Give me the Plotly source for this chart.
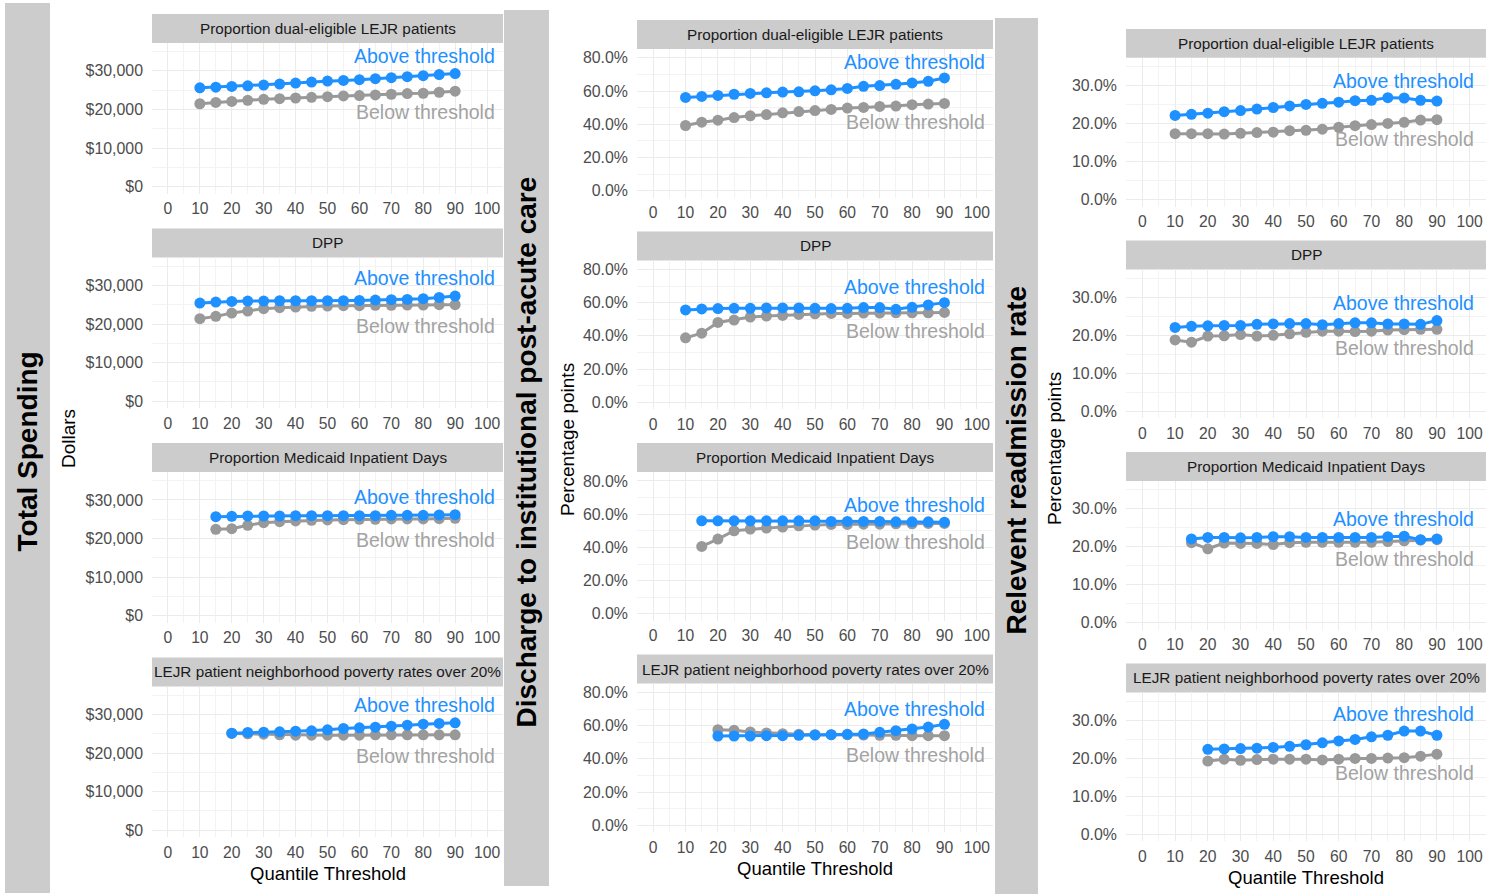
import plotly.graph_objects as go

# ---------------- data ----------------
X_10 = list(range(10, 95, 5))   # thresholds 10..90
X_15 = list(range(15, 95, 5))   # thresholds 15..90
X_20 = list(range(20, 95, 5))   # thresholds 20..90

FACETS = [
    "Proportion dual-eligible LEJR patients",
    "DPP",
    "Proportion Medicaid Inpatient Days",
    "LEJR patient neighborhood poverty rates over 20%",
]
OUTCOMES = ["Total Spending", "Discharge to institutional post-acute care", "Relevent readmission rate"]
Y_TITLES = ["Dollars", "Percentage points", "Percentage points"]
X_TITLE = "Quantile Threshold"
LABEL_ABOVE = "Above threshold"
LABEL_BELOW = "Below threshold"

X_TICKS = [0, 10, 20, 30, 40, 50, 60, 70, 80, 90, 100]
X_TICK_TEXT = ["0", "10", "20", "30", "40", "50", "60", "70", "80", "90", "100"]
Y_TICKS_SPEND = [0, 10000, 20000, 30000]
Y_TICK_TEXT_SPEND = ["$0", "$10,000", "$20,000", "$30,000"]
Y_TICKS_PAC = [0, 20, 40, 60, 80]
Y_TICK_TEXT_PAC = ["0.0%", "20.0%", "40.0%", "60.0%", "80.0%"]
Y_TICKS_READM = [0, 10, 20, 30]
Y_TICK_TEXT_READM = ["0.0%", "10.0%", "20.0%", "30.0%"]

# Total spending (dollars)
spend_dual_above = [25610, 25790, 25970, 26140, 26320, 26580, 26840, 27100, 27370, 27540, 27720, 27980, 28250, 28510, 28770, 29040, 29300]
spend_dual_below = [21490, 21840, 22100, 22370, 22630, 22810, 22980, 23160, 23330, 23510, 23600, 23770, 23950, 24120, 24210, 24470, 24740]
spend_dpp_above = [25430, 25690, 25860, 25950, 25950, 26030, 26030, 26030, 26030, 26030, 26120, 26210, 26290, 26380, 26550, 26900, 27240]
spend_dpp_below = [21380, 21980, 22850, 23360, 23970, 24220, 24400, 24570, 24660, 24740, 24740, 24830, 24830, 24910, 24910, 25000, 25000]
spend_mcd_above = [25670, 25760, 25840, 25840, 25840, 25930, 25930, 25930, 25930, 25930, 25930, 26020, 26020, 26020, 26100, 26190]
spend_mcd_below = [22380, 22550, 23420, 24110, 24370, 24550, 24720, 24810, 24890, 24980, 24980, 25070, 25070, 25070, 25150, 25240]
spend_pov_above = [25150, 25330, 25410, 25500, 25670, 25760, 26020, 26360, 26540, 26710, 26970, 27230, 27490, 27660, 27840]
spend_pov_below = [25070, 24980, 24890, 24720, 24630, 24630, 24630, 24630, 24630, 24720, 24720, 24720, 24720, 24720, 24720]

# Discharge to institutional post-acute care (percent)
pac_dual_above = [56.2, 56.8, 57.4, 58.1, 58.6, 59.0, 59.4, 59.6, 60.2, 60.8, 61.6, 62.9, 63.3, 64.1, 64.9, 65.9, 67.9]
pac_dual_below = [39.3, 41.3, 42.5, 44.1, 45.1, 45.9, 46.9, 47.7, 48.3, 49.0, 49.8, 50.2, 50.8, 51.0, 51.8, 52.2, 52.6]
pac_dpp_above = [55.6, 56.2, 56.4, 56.6, 56.6, 56.8, 56.8, 56.8, 56.6, 56.4, 56.6, 57.0, 57.0, 56.0, 57.2, 58.6, 60.0]
pac_dpp_below = [38.8, 41.6, 48.1, 49.5, 51.3, 51.9, 52.3, 52.9, 53.3, 53.5, 53.5, 53.7, 53.7, 53.9, 53.9, 53.9, 54.1]
pac_mcd_above = [56.0, 56.0, 56.0, 56.0, 56.0, 56.0, 56.0, 56.0, 55.6, 55.6, 55.6, 55.6, 55.4, 55.4, 55.4, 55.2]
pac_mcd_below = [40.6, 45.0, 50.0, 51.0, 51.6, 52.2, 53.0, 53.4, 53.8, 53.8, 54.0, 54.0, 54.2, 54.2, 54.4, 54.4]
pac_pov_above = [53.8, 53.8, 53.8, 54.0, 54.0, 54.2, 54.4, 54.6, 54.8, 55.0, 56.0, 57.0, 58.0, 59.2, 60.8]
pac_pov_below = [57.6, 57.2, 56.2, 55.6, 55.2, 54.8, 54.6, 54.6, 54.6, 54.4, 54.2, 54.2, 54.0, 54.0, 54.0]

# Relevant readmission rate (percent)
readm_dual_above = [22.2, 22.5, 22.8, 23.2, 23.5, 23.9, 24.3, 24.7, 25.1, 25.4, 25.7, 26.1, 26.2, 26.9, 26.8, 26.2, 26.0]
readm_dual_below = [17.4, 17.4, 17.4, 17.3, 17.5, 17.7, 17.8, 18.2, 18.3, 18.6, 19.1, 19.5, 19.8, 20.1, 20.4, 21.0, 21.1]
readm_dpp_above = [22.1, 22.4, 22.5, 22.6, 22.6, 22.9, 23.0, 23.1, 23.1, 22.8, 23.1, 23.3, 23.3, 23.0, 23.0, 22.9, 23.9]
readm_dpp_below = [18.8, 18.2, 19.8, 19.9, 20.2, 19.8, 20.0, 20.4, 20.8, 21.1, 21.1, 21.0, 21.1, 21.4, 21.5, 21.6, 21.6]
readm_mcd_above = [22.1, 22.5, 22.5, 22.4, 22.5, 22.7, 22.7, 22.5, 22.5, 22.5, 22.5, 22.5, 22.7, 22.8, 21.9, 22.1]
readm_mcd_below = [21.1, 19.5, 21.0, 20.9, 20.9, 20.6, 21.1, 21.2, 21.2, 21.2, 21.2, 21.2, 21.4, 21.6, 21.8, 21.9]
readm_pov_above = [22.4, 22.5, 22.6, 22.7, 22.9, 23.2, 23.6, 24.1, 24.6, 25.0, 25.7, 26.1, 27.2, 27.2, 26.1]
readm_pov_below = [19.3, 19.8, 19.5, 19.7, 19.8, 19.8, 19.8, 19.6, 19.8, 20.0, 20.0, 20.1, 20.2, 20.6, 21.1]

SERIES = [
    [(X_10, spend_dual_above, spend_dual_below), (X_10, spend_dpp_above, spend_dpp_below),
     (X_15, spend_mcd_above, spend_mcd_below), (X_20, spend_pov_above, spend_pov_below)],
    [(X_10, pac_dual_above, pac_dual_below), (X_10, pac_dpp_above, pac_dpp_below),
     (X_15, pac_mcd_above, pac_mcd_below), (X_20, pac_pov_above, pac_pov_below)],
    [(X_10, readm_dual_above, readm_dual_below), (X_10, readm_dpp_above, readm_dpp_below),
     (X_15, readm_mcd_above, readm_mcd_below), (X_20, readm_pov_above, readm_pov_below)],
]
Y_TICK_SETS = [(Y_TICKS_SPEND, Y_TICK_TEXT_SPEND), (Y_TICKS_PAC, Y_TICK_TEXT_PAC), (Y_TICKS_READM, Y_TICK_TEXT_READM)]

# ---------------- layout geometry (pixels) ----------------
W, H = 1496, 896
BLUE = "#1E90FF"
GREY = "#999999"
GREY_TEXT = "#A3A3A3"
STRIP = "#CCCCCC"
FONT = "Liberation Sans, Arial, sans-serif"

COLS = [
    dict(x0=152, x1=503, tops=[43, 258, 473, 688], h=151, yr=[-1774, 37250], minor=5000, label_x=103,
         big=(5, 50, 3, 895), ytitle_x=68, ytitle_y=440, xtitle_y=875, above_off=4600, below_off=5500),
    dict(x0=637, x1=993, tops=[49, 261, 473, 685], h=149, yr=[-4.07, 85.41], minor=10, label_x=103,
         big=(504, 549, 10, 888), ytitle_x=567, ytitle_y=441, xtitle_y=870, above_off=9.5, below_off=11.4),
    dict(x0=1126, x1=1486, tops=[58, 270, 482, 694], h=149, yr=[-1.78, 37.37], minor=5, label_x=102,
         big=(995, 1038, 18, 896), ytitle_x=1055, ytitle_y=450, xtitle_y=879, above_off=4.5, below_off=5.0),
]
STRIP_H = 29


def px(x):
    return x / W


def py(y):
    return 1 - y / H


fig = go.Figure()
shapes = []
annotations = []
layout_axes = {}

idx = 0
for c, col in enumerate(COLS):
    # big outcome strip on the left
    bx0, bx1, by0, by1 = col["big"]
    shapes.append(dict(type="rect", xref="paper", yref="paper", x0=px(bx0), x1=px(bx1),
                       y0=py(by1), y1=py(by0), fillcolor=STRIP, line=dict(width=0), layer="below"))
    annotations.append(dict(xref="paper", yref="paper", x=px((bx0 + bx1) / 2), y=py((by0 + by1) / 2 + 4),
                            text="<b>%s</b>" % OUTCOMES[c], textangle=-90, showarrow=False,
                            font=dict(family=FONT, size=28, color="#000000"),
                            xanchor="center", yanchor="middle"))
    annotations.append(dict(xref="paper", yref="paper", x=px(col["ytitle_x"]), y=py(col["ytitle_y"]),
                            text=Y_TITLES[c], textangle=-90, showarrow=False,
                            font=dict(family=FONT, size=19, color="#000000"),
                            xanchor="center", yanchor="middle"))
    annotations.append(dict(xref="paper", yref="paper", x=px((col["x0"] + col["x1"]) / 2), y=py(col["xtitle_y"]),
                            text=X_TITLE, showarrow=False,
                            font=dict(family=FONT, size=18.5, color="#000000"),
                            xanchor="center", yanchor="middle"))
    yt, ytt = Y_TICK_SETS[c]
    for p in range(4):
        idx += 1
        top = col["tops"][p]
        bot = top + col["h"]
        xa = "xaxis" if idx == 1 else "xaxis%d" % idx
        ya = "yaxis" if idx == 1 else "yaxis%d" % idx
        xr = "x" if idx == 1 else "x%d" % idx
        yr = "y" if idx == 1 else "y%d" % idx
        layout_axes[xa] = dict(domain=[px(col["x0"]), px(col["x1"])], range=[-5, 105], anchor=yr,
                               tickvals=X_TICKS, ticktext=X_TICK_TEXT, showgrid=True, gridcolor="#EBEBEB",
                               gridwidth=1.1, zeroline=False, showline=False, ticks="", ticklabelstandoff=4,
                               tickfont=dict(family=FONT, size=15.7, color="#4D4D4D"),
                               minor=dict(dtick=5, tick0=0, showgrid=True, gridcolor="#F3F3F3", gridwidth=0.6),
                               fixedrange=True)
        layout_axes[ya] = dict(domain=[py(bot), py(top)], range=col["yr"], anchor=xr,
                               tickvals=yt, ticktext=ytt, showgrid=True, gridcolor="#EBEBEB",
                               gridwidth=1.1, zeroline=False, showline=False, ticks="", ticklabelstandoff=8,
                               tickfont=dict(family=FONT, size=15.9, color="#4D4D4D"),
                               minor=dict(dtick=col["minor"], tick0=0, showgrid=True, gridcolor="#F3F3F3", gridwidth=0.6),
                               fixedrange=True)
        # facet strip
        shapes.append(dict(type="rect", xref="paper", yref="paper", x0=px(col["x0"]), x1=px(col["x1"]),
                           y0=py(top), y1=py(top - STRIP_H), fillcolor=STRIP, line=dict(width=0), layer="below"))
        annotations.append(dict(xref="paper", yref="paper", x=px((col["x0"] + col["x1"]) / 2),
                                y=py(top - STRIP_H / 2), text=FACETS[p], showarrow=False,
                                font=dict(family=FONT, size=15.3, color="#1A1A1A"),
                                xanchor="center", yanchor="middle"))
        xs, above, below = SERIES[c][p]
        fig.add_trace(go.Scatter(x=xs, y=below, mode="lines+markers", xaxis=xr, yaxis=yr,
                                 line=dict(color=GREY, width=3), marker=dict(color=GREY, size=11),
                                 showlegend=False, hoverinfo="skip"))
        fig.add_trace(go.Scatter(x=xs, y=above, mode="lines+markers", xaxis=xr, yaxis=yr,
                                 line=dict(color=BLUE, width=3), marker=dict(color=BLUE, size=11),
                                 showlegend=False, hoverinfo="skip"))
        annotations.append(dict(xref=xr, yref=yr, x=col["label_x"], y=max(above) + col["above_off"],
                                text=LABEL_ABOVE, showarrow=False, xanchor="right", yanchor="middle",
                                font=dict(family=FONT, size=19.5, color=BLUE)))
        annotations.append(dict(xref=xr, yref=yr, x=col["label_x"], y=below[-1] - col["below_off"],
                                text=LABEL_BELOW, showarrow=False, xanchor="right", yanchor="middle",
                                font=dict(family=FONT, size=19.5, color=GREY_TEXT)))

fig.update_layout(width=W, height=H, margin=dict(l=0, r=0, t=0, b=0),
                  paper_bgcolor="white", plot_bgcolor="white",
                  shapes=shapes, annotations=annotations, showlegend=False, **layout_axes)
fig.write_html("out.html", include_plotlyjs=True, config=dict(displayModeBar=False))
